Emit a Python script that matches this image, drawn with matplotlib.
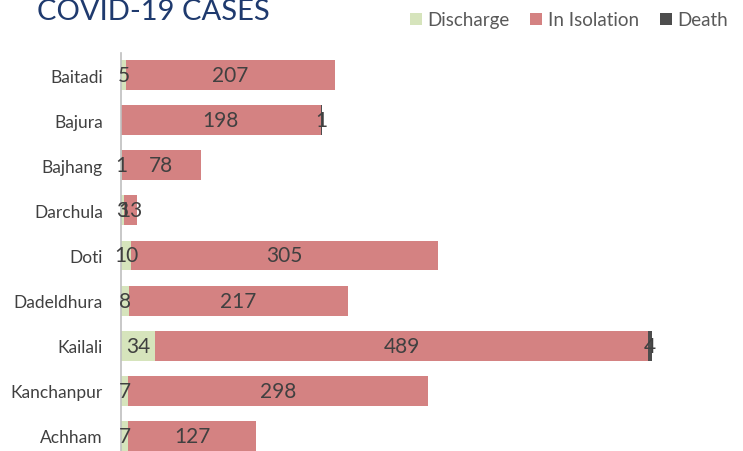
import matplotlib.pyplot as plt
import numpy as np

districts = ['Baitadi', 'Bajura', 'Bajhang', 'Darchula', 'Doti',
             'Dadeldhura', 'Kailali', 'Kanchanpur', 'Achham']
discharge = [5, 0, 1, 3, 10, 8, 34, 7, 7]
isolation = [207, 198, 78, 13, 305, 217, 489, 298, 127]
death = [0, 1, 0, 0, 0, 0, 4, 0, 0]

series = [('Discharge', discharge, '#d6e4bc'),
          ('In Isolation', isolation, '#d48282'),
          ('Death', death, '#4d4d4d')]

plt.rcParams['font.family'] = ['Lato', 'DejaVu Sans']

fig = plt.figure(figsize=(7.43, 4.52), dpi=100)
ax = fig.add_axes([121 / 743, -7.5 / 452, 604.6 / 743, 406 / 452])

y = np.arange(len(districts))
left = np.zeros(len(districts))
handles = []
for name, vals, color in series:
    vals = np.array(vals)
    bars = ax.barh(y, vals, left=left, height=0.665, color=color, label=name)
    handles.append(bars)
    for yi, l, v in zip(y, left, vals):
        if v > 0:
            ax.text(l + v / 2, yi, str(v), ha='center', va='center',
                    fontsize=15, color='#404040')
    left = left + vals

ax.set_xlim(0, 600)
ax.set_ylim(len(districts) - 0.5, -0.5)
ax.set_yticks(y)
ax.set_yticklabels(districts, fontsize=12.5, color='#404040')
ax.tick_params(axis='y', length=0, pad=13)
ax.set_xticks([])
for s in ['top', 'right', 'bottom']:
    ax.spines[s].set_visible(False)
ax.spines['left'].set_color('#bfbfbf')
ax.spines['left'].set_linewidth(1.2)

fig.text(37 / 743, 1 - 20 / 452, 'COVID-19 CASES', fontsize=21,
         color='#1f3a6e', ha='left', va='baseline')

fig.legend(handles=handles, loc='upper right', bbox_to_anchor=(1.003, 1.01),
           ncol=3, frameon=False, fontsize=13.5, handlelength=0.65,
           handleheight=0.65, handletextpad=0.3, columnspacing=1.1,
           labelcolor='#595959')

fig.savefig('out.png', dpi=100)
